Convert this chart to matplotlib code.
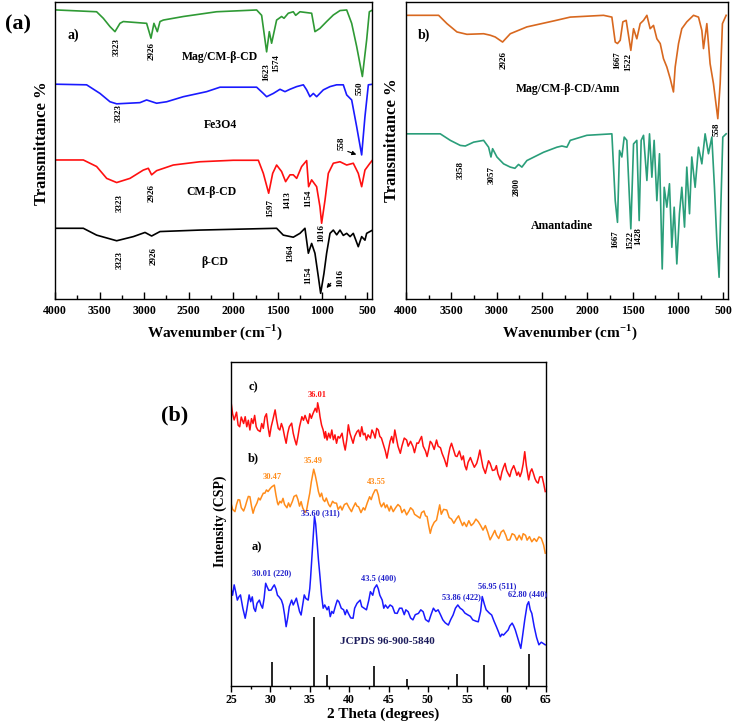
import matplotlib
matplotlib.use('Agg')
import matplotlib.pyplot as plt
from matplotlib.ticker import MultipleLocator

plt.rcParams['font.family'] = ['Liberation Serif', 'DejaVu Serif']
plt.rcParams['font.weight'] = 'bold'
plt.rcParams['mathtext.fontset'] = 'custom'
plt.rcParams['mathtext.rm'] = 'Liberation Serif:bold'
plt.rcParams['mathtext.bf'] = 'Liberation Serif:bold'

# ---- FTIR (a): wavenumber (cm-1) vs transmittance (offset, a.u.) ----
wn_mag = [3981, 3533, 3458, 3383, 3327, 3271, 3234, 2972, 2923, 2890, 2852, 2822, 2785, 2560,
          2187, 1738, 1682, 1626, 1596, 1570, 1514, 1458, 1431, 1383, 1327, 1300, 1252, 1121,
          1084, 1028, 953, 878, 803, 728, 672, 616, 552, 504, 474, 437]
t_mag = [97.3, 96.7, 94.5, 91.7, 90.0, 92.8, 93.4, 92.8, 87.8, 92.8, 90.0, 93.4, 93.9, 95.1,
         96.7, 97.3, 95.5, 83.2, 90.0, 86.1, 93.9, 95.1, 94.5, 96.2, 96.7, 95.5, 96.7, 96.2,
         90.0, 91.1, 93.4, 95.6, 97.1, 97.3, 92.8, 85.0, 74.9, 87.2, 96.7, 97.3]

wn_fe = [3981, 3645, 3495, 3383, 3308, 3047, 2972, 2860, 2747, 2560, 2299, 2149, 1738, 1663,
         1626, 1551, 1476, 1420, 1364, 1289, 1214, 1177, 1140, 1102, 1065, 990, 915, 841,
         766, 728, 672, 616, 560, 523, 485, 437]
t_fe = [72.3, 72.1, 69.2, 66.4, 65.7, 66.1, 67.0, 65.9, 66.4, 68.1, 69.8, 71.3, 71.3, 69.2,
        68.1, 69.2, 70.6, 69.8, 70.6, 71.5, 72.1, 70.4, 68.1, 69.2, 68.1, 70.4, 71.5, 72.1,
        72.1, 68.7, 67.0, 58.0, 48.5, 61.4, 72.1, 72.3]

wn_cmcd = [3981, 3682, 3533, 3420, 3308, 3159, 3009, 2953, 2916, 2860, 2673, 2374, 2000, 1719,
           1663, 1603, 1558, 1514, 1458, 1413, 1364, 1327, 1289, 1233, 1177, 1155, 1121, 1065,
           1028, 1009, 971, 934, 878, 803, 728, 654, 598, 560, 523, 467, 437]
t_cmcd = [46.8, 46.8, 44.6, 40.6, 39.2, 40.6, 43.4, 44.0, 41.8, 43.2, 45.1, 46.2, 46.7, 46.7,
          42.3, 35.6, 42.3, 45.1, 42.9, 39.5, 41.8, 41.8, 40.6, 44.6, 46.6, 37.8, 40.1, 37.8,
          31.1, 25.5, 33.3, 42.3, 45.7, 46.2, 45.1, 45.7, 42.3, 37.8, 43.4, 45.7, 46.8]

wn_bcd = [3981, 3682, 3533, 3308, 3121, 2990, 2916, 2822, 2374, 1514, 1439, 1327, 1252, 1196,
          1158, 1121, 1084, 1046, 1020, 983, 953, 915, 878, 840, 803, 766, 728, 690, 654,
          598, 560, 523, 504, 437]
t_bcd = [23.8, 23.8, 21.5, 19.6, 21.0, 22.4, 21.2, 22.7, 23.2, 23.8, 21.5, 20.8, 22.1, 23.8,
         15.4, 18.7, 15.4, 7.5, 1.9, 8.6, 15.4, 22.1, 23.2, 21.6, 23.2, 21.4, 22.1, 21.0, 22.1,
         17.6, 21.0, 19.8, 22.1, 23.2]

# ---- FTIR (b) ----
wn_amn_mag = [3989, 3640, 3548, 3438, 3328, 3144, 3071, 3016, 2935, 2850, 2667, 2373, 2189,
              1822, 1730, 1693, 1668, 1638, 1609, 1572, 1521, 1491, 1455, 1418, 1381, 1344,
              1308, 1271, 1234, 1197, 1161, 1124, 1087, 1051, 1032, 995, 959, 904, 830, 775,
              738, 720, 683, 647, 610, 562, 536, 511, 470]
t_amn_mag = [95.5, 95.5, 92.7, 89.9, 89.1, 89.3, 88.8, 88.2, 86.5, 89.3, 91.6, 93.6, 94.9,
             95.5, 94.9, 86.5, 86.0, 87.1, 93.3, 93.8, 83.7, 91.0, 87.6, 92.7, 93.8, 95.5,
             91.0, 92.1, 87.6, 86.0, 80.9, 78.1, 74.2, 69.7, 78.1, 86.0, 91.0, 93.3, 95.5,
             94.9, 90.4, 84.3, 92.7, 79.2, 72.5, 60.7, 72.5, 92.7, 95.5]

wn_amn = [3989, 3622, 3511, 3401, 3346, 3254, 3144, 3089, 3063, 3045, 2997, 2924, 2850, 2799,
          2759, 2722, 2667, 2483, 2336, 2281, 2226, 2189, 2006, 1730, 1693, 1668, 1646, 1620,
          1594, 1565, 1521, 1491, 1455, 1429, 1407, 1381, 1344, 1315, 1289, 1264, 1234, 1205,
          1175, 1153, 1124, 1095, 1069, 1043, 1014, 985, 959, 929, 904, 874, 849, 812, 775,
          738, 702, 665, 628, 599, 573, 548, 529, 507, 470]
t_amn = [55.6, 55.6, 53.4, 51.7, 51.5, 52.8, 53.4, 51.1, 47.8, 50.6, 47.8, 45.5, 44.4, 44.0,
         45.3, 44.4, 46.6, 49.4, 51.1, 51.5, 51.1, 53.4, 55.1, 55.6, 33.1, 25.8, 50.0, 47.8,
         54.5, 53.4, 23.6, 52.2, 53.4, 26.4, 53.4, 55.1, 39.9, 55.6, 41.0, 53.4, 33.1, 48.9,
         10.1, 37.6, 30.9, 38.8, 17.4, 30.9, 11.8, 28.7, 37.6, 24.2, 44.4, 28.7, 47.8, 37.6,
         51.1, 45.5, 55.6, 48.9, 54.5, 37.6, 19.7, 7.3, 30.9, 54.5, 55.6]

# ---- XRD: 2 theta (deg) vs intensity (offset, a.u.) ----
tt_c = [25.0, 25.2, 25.4, 25.7, 25.9, 26.1, 26.3, 26.6, 26.8, 27.0, 27.2, 27.4, 27.6, 27.8,
        28.0, 28.2, 28.4, 28.7, 28.9, 29.1, 29.3, 29.5, 29.7, 29.9, 30.1, 30.3, 30.6, 30.8,
        31.0, 31.2, 31.4, 31.6, 31.8, 32.0, 32.2, 32.4, 32.7, 32.9, 33.1, 33.3, 33.5, 33.7,
        34.0, 34.2, 34.4, 34.6, 34.8, 35.0, 35.2, 35.4, 35.7, 35.9, 36.0, 36.2, 36.3, 36.5,
        36.7, 36.9, 37.0, 37.2, 37.4, 37.6, 37.8, 38.0, 38.2, 38.4, 38.6, 38.8, 39.1, 39.3,
        39.5, 39.7, 39.9, 40.1, 40.3, 40.5, 40.7, 41.0, 41.2, 41.4, 41.6, 41.8, 42.0, 42.2,
        42.4, 42.7, 42.9, 43.1, 43.3, 43.5, 43.7, 43.9, 44.1, 44.3, 44.6, 44.8, 45.0, 45.2,
        45.4, 45.6, 45.8, 46.0, 46.2, 46.5, 46.7, 47.0, 47.3, 47.5, 47.8, 48.1, 48.3, 48.6,
        48.8, 49.0, 49.2, 49.4, 49.7, 49.9, 50.1, 50.3, 50.5, 50.8, 51.1, 51.3, 51.6, 51.8,
        52.1, 52.4, 52.6, 52.8, 53.0, 53.3, 53.5, 53.7, 54.0, 54.3, 54.5, 54.7, 54.9, 55.1,
        55.4, 55.6, 55.9, 56.2, 56.4, 56.6, 56.8, 57.0, 57.3, 57.5, 57.7, 57.9, 58.2, 58.5,
        58.7, 58.9, 59.2, 59.4, 59.6, 59.8, 60.0, 60.2, 60.4, 60.6, 60.9, 61.1, 61.3, 61.5,
        61.7, 61.9, 62.1, 62.3, 62.5, 62.8, 63.0, 63.2, 63.4, 63.6, 63.8, 64.0, 64.2, 64.5,
        64.7, 64.9]
int_c = [87.7, 84.0, 82.1, 84.5, 80.5, 80.0, 83.0, 81.0, 83.1, 80.0, 82.0, 79.0, 82.5, 81.0,
         83.5, 80.0, 79.0, 78.5, 81.0, 79.5, 83.0, 84.0, 80.0, 77.0, 80.0, 82.0, 85.2, 82.0,
         79.5, 79.0, 81.0, 79.5, 77.0, 74.9, 78.0, 80.0, 81.1, 78.0, 76.0, 74.4, 77.0, 80.0,
         83.1, 82.0, 83.5, 82.1, 81.0, 84.0, 82.6, 84.0, 85.7, 84.5, 87.4, 85.0, 83.1, 80.5,
         79.0, 76.5, 78.5, 75.9, 78.0, 76.5, 79.0, 76.0, 77.5, 74.9, 77.0, 76.5, 78.0, 75.0,
         72.8, 76.0, 80.6, 78.0, 76.5, 74.9, 77.0, 78.5, 79.0, 77.0, 80.0, 77.5, 78.0, 75.9,
         77.5, 76.5, 79.0, 78.0, 76.5, 79.5, 79.0, 77.0, 76.5, 74.9, 72.5, 70.3, 73.0, 75.5,
         77.0, 75.0, 79.0, 76.5, 74.0, 71.8, 74.0, 76.5, 75.9, 74.0, 75.5, 73.9, 72.0, 75.0,
         74.9, 76.0, 77.0, 74.0, 72.5, 70.8, 73.0, 75.5, 74.9, 73.0, 75.9, 74.0, 73.5, 71.8,
         70.0, 67.7, 71.0, 73.5, 74.9, 72.5, 71.0, 70.8, 72.5, 69.8, 71.0, 68.0, 66.7, 69.0,
         70.5, 69.2, 67.5, 68.7, 70.5, 72.8, 70.0, 67.5, 65.6, 67.5, 69.5, 68.7, 66.5, 66.7,
         68.0, 65.5, 63.6, 66.0, 67.5, 68.7, 66.5, 65.5, 64.6, 66.5, 68.0, 66.7, 65.0, 66.0,
         64.6, 66.0, 68.5, 72.3, 68.0, 63.6, 66.0, 67.0, 65.6, 64.0, 63.0, 62.6, 64.5, 64.6,
         62.5, 60.0]

tt_b = [25.0, 25.2, 25.5, 25.7, 25.9, 26.1, 26.3, 26.6, 26.8, 27.0, 27.2, 27.4, 27.6, 27.8,
        28.0, 28.3, 28.5, 28.7, 28.9, 29.1, 29.3, 29.5, 29.7, 30.0, 30.2, 30.5, 30.7, 30.9,
        31.0, 31.2, 31.4, 31.6, 31.8, 32.1, 32.3, 32.5, 32.8, 33.0, 33.3, 33.5, 33.7, 33.9,
        34.1, 34.4, 34.6, 34.8, 35.0, 35.2, 35.5, 35.7, 35.9, 36.1, 36.3, 36.5, 36.7, 36.9,
        37.1, 37.4, 37.6, 37.9, 38.1, 38.4, 38.6, 38.9, 39.1, 39.4, 39.7, 40.0, 40.3, 40.5,
        40.8, 41.0, 41.2, 41.5, 41.8, 42.0, 42.3, 42.6, 42.8, 43.0, 43.3, 43.5, 43.7, 43.9,
        44.1, 44.4, 44.6, 44.8, 45.1, 45.3, 45.6, 45.9, 46.2, 46.5, 46.7, 47.0, 47.3, 47.6,
        47.8, 48.1, 48.3, 48.6, 49.0, 49.2, 49.5, 49.7, 49.9, 50.1, 50.3, 50.5, 50.8, 51.1,
        51.3, 51.5, 51.7, 52.0, 52.4, 52.7, 53.0, 53.3, 53.6, 53.9, 54.1, 54.4, 54.6, 54.9,
        55.2, 55.5, 55.8, 56.1, 56.4, 56.7, 57.0, 57.3, 57.6, 57.9, 58.2, 58.5, 58.7, 59.0,
        59.3, 59.6, 59.9, 60.1, 60.4, 60.7, 61.0, 61.3, 61.6, 61.9, 62.1, 62.4, 62.6, 62.9,
        63.2, 63.5, 63.8, 64.1, 64.4, 64.7, 64.9]
int_b = [56.4, 54.5, 53.8, 56.0, 57.5, 57.4, 55.0, 54.0, 55.3, 57.0, 58.5, 58.4, 55.5, 53.3,
         55.0, 56.5, 58.0, 57.4, 58.5, 59.5, 59.5, 60.5, 60.0, 61.0, 61.5, 62.0, 59.0, 56.5,
         55.9, 57.0, 56.5, 57.9, 56.0, 55.0, 56.5, 55.3, 57.0, 58.5, 58.9, 57.5, 55.5, 56.9,
         55.0, 53.5, 54.3, 57.0, 59.5, 63.0, 66.9, 65.0, 62.6, 60.0, 58.4, 59.5, 57.5, 56.9,
         58.0, 56.0, 55.3, 57.0, 56.5, 56.4, 54.5, 55.5, 54.3, 56.0, 56.4, 55.0, 53.8, 55.0,
         56.5, 55.5, 55.3, 53.5, 55.0, 54.3, 56.5, 58.4, 57.5, 59.0, 60.5, 60.5, 59.0, 56.5,
         55.3, 56.5, 55.0, 55.9, 54.0, 55.5, 53.8, 55.0, 56.0, 55.3, 53.5, 54.5, 52.8, 54.0,
         55.0, 54.3, 53.0, 52.5, 51.8, 53.5, 54.0, 52.5, 52.3, 49.5, 47.1, 49.0, 50.5, 51.2,
         53.5, 55.9, 53.0, 54.5, 54.3, 52.0, 51.5, 50.2, 51.5, 52.5, 51.2, 49.5, 50.5, 49.2,
         51.0, 49.5, 50.2, 51.5, 50.7, 49.5, 48.1, 49.5, 47.5, 45.1, 46.5, 48.0, 46.6, 45.5,
         47.5, 48.1, 46.5, 45.0, 45.1, 47.0, 46.6, 45.0, 46.5, 45.1, 47.0, 46.5, 45.0, 46.1,
         44.5, 45.5, 44.6, 46.0, 45.6, 43.5, 41.0]

tt_a = [25.0, 25.2, 25.4, 25.6, 25.8, 26.0, 26.2, 26.5, 26.8, 27.0, 27.3, 27.5, 27.7, 27.9,
        28.1, 28.3, 28.6, 28.8, 29.0, 29.2, 29.4, 29.6, 29.8, 30.1, 30.3, 30.5, 30.7, 30.9,
        31.1, 31.4, 31.6, 31.8, 32.0, 32.2, 32.4, 32.7, 32.9, 33.1, 33.3, 33.5, 33.7, 33.9,
        34.1, 34.3, 34.5, 34.8, 35.0, 35.1, 35.3, 35.5, 35.6, 35.75, 35.9, 36.1, 36.3, 36.5,
        36.7, 36.9, 37.2, 37.4, 37.6, 37.8, 38.0, 38.3, 38.5, 38.7, 39.0, 39.3, 39.5, 39.7,
        39.9, 40.2, 40.5, 40.7, 41.0, 41.2, 41.4, 41.6, 41.9, 42.2, 42.5, 42.7, 43.0, 43.2,
        43.5, 43.7, 43.9, 44.2, 44.4, 44.6, 44.9, 45.2, 45.5, 45.8, 46.1, 46.4, 46.7, 47.0,
        47.2, 47.5, 47.8, 48.1, 48.4, 48.8, 49.1, 49.4, 49.7, 50.1, 50.4, 50.7, 51.0, 51.3,
        51.6, 51.9, 52.2, 52.6, 52.9, 53.2, 53.5, 53.8, 54.1, 54.4, 54.7, 55.1, 55.4, 55.7,
        56.1, 56.4, 56.7, 56.9, 57.2, 57.4, 57.8, 58.1, 58.4, 58.7, 59.0, 59.2, 59.4, 59.6,
        59.9, 60.2, 60.4, 60.7, 60.9, 61.1, 61.5, 61.8, 62.0, 62.3, 62.6, 62.8, 63.0, 63.2,
        63.5, 63.8, 64.1, 64.4, 64.6, 64.9]
int_a = [30.1, 28.0, 31.2, 29.0, 26.5, 27.5, 28.1, 24.0, 20.9, 23.5, 28.1, 26.0, 27.5, 24.0,
         23.0, 25.5, 26.5, 25.0, 24.0, 27.0, 31.7, 30.5, 29.5, 29.6, 30.5, 31.2, 30.0, 28.0,
         27.5, 26.5, 25.0, 22.0, 18.3, 21.0, 24.5, 26.5, 25.0, 26.0, 27.1, 25.0, 23.0, 21.9,
         25.0, 28.1, 27.0, 26.5, 30.0, 33.2, 41.0, 49.0, 52.3, 50.0, 45.1, 39.0, 33.7, 28.0,
         24.0, 25.0, 23.5, 24.5, 21.4, 23.0, 22.4, 25.0, 26.5, 26.0, 24.0, 23.5, 22.0, 23.5,
         22.4, 21.0, 20.9, 24.0, 25.5, 26.0, 26.5, 24.5, 24.0, 23.5, 26.5, 29.1, 28.0, 30.1,
         31.2, 30.0, 28.0, 26.5, 24.0, 25.0, 24.0, 25.0, 24.5, 22.5, 22.4, 24.0, 24.0, 22.0,
         23.5, 22.9, 21.0, 20.4, 22.0, 22.4, 23.5, 22.9, 20.5, 19.8, 22.0, 24.0, 23.0, 23.5,
         22.0, 20.4, 19.5, 18.8, 20.5, 21.9, 24.0, 25.0, 24.0, 23.5, 22.5, 21.9, 21.5, 20.4,
         20.0, 19.8, 23.0, 27.6, 25.0, 23.5, 22.5, 21.9, 20.0, 18.3, 16.5, 15.2, 16.0, 15.7,
         16.5, 17.3, 18.5, 19.4, 18.5, 17.3, 14.0, 11.6, 15.0, 20.4, 25.0, 26.0, 23.5, 22.4,
         18.3, 15.0, 12.7, 13.5, 13.2, 12.7]

ref_tt = [30.25, 35.58, 37.19, 43.2, 47.3, 53.65, 57.15, 62.8]
ref_int = [7.4, 21.3, 3.3, 6.1, 2.1, 3.8, 6.4, 9.8]

green = '#2f9a35'
blue = '#1a1aff'
red = '#ff1010'
orange_b = '#d8681f'
teal = '#2a9e7a'
xrd_orange = '#ff8c1a'

fig = plt.figure(figsize=(7.32, 7.22), dpi=100)
ax1 = fig.add_axes([0.0751, 0.5859, 0.4331, 0.4114])
ax2 = fig.add_axes([0.5546, 0.5859, 0.4399, 0.4114])
ax3 = fig.add_axes([0.3156, 0.0499, 0.4303, 0.4488])


def ftir_axes(ax, right):
    ax.set_xlim(4000, right)
    ax.set_ylim(0, 100)
    ax.set_yticks([])
    ax.xaxis.set_major_locator(MultipleLocator(500))
    ax.xaxis.set_minor_locator(MultipleLocator(250))
    ax.tick_params(axis='x', which='major', direction='in', length=5, width=1, labelsize=8.5, pad=4)
    ax.tick_params(axis='x', which='minor', direction='in', length=3, width=1)
    for s in ax.spines.values():
        s.set_linewidth(1.0)


def vlabel(ax, txt, x, y, size=6.5):
    ax.text(x, y, txt, rotation=90, ha='center', va='center', fontsize=size)


# panel a
ax1.plot(wn_mag, t_mag, color=green, lw=1.2)
ax1.plot(wn_fe, t_fe, color=blue, lw=1.2)
ax1.plot(wn_cmcd, t_cmcd, color=red, lw=1.2)
ax1.plot(wn_bcd, t_bcd, color='black', lw=1.2)
ftir_axes(ax1, 444)

ax1.text(3794, 88.9, 'a)', fontsize=10, ha='center', va='center')
for txt, x, y in [('3323', 3308, 85.0), ('2926', 2916, 83.3), ('1623', 1626, 76.5),
                  ('1574', 1514, 79.3), ('550', 579, 70.9),
                  ('3323', 3290, 62.5), ('558', 784, 52.4),
                  ('3323', 3271, 32.2), ('2926', 2916, 35.6), ('1597', 1588, 30.5),
                  ('1413', 1394, 33.3), ('1154', 1158, 33.9), ('1016', 1009, 22.1),
                  ('3323', 3271, 13.1), ('2926', 2897, 14.3), ('1364', 1364, 15.4),
                  ('1154', 1158, 8.1), ('1016', 796, 7.0)]:
    vlabel(ax1, txt, x, y)
for txt, x, y in [('Mag/CM-β-CD', 2149, 81.6), ('Fe3O4', 2149, 58.6),
                  ('CM-β-CD', 2243, 36.1), ('β-CD', 2205, 12.6)]:
    ax1.text(x, y, txt, fontsize=8.5, ha='center', va='center')
ax1.annotate('', xy=(590, 48.3), xytext=(745, 50.0),
             arrowprops=dict(arrowstyle='-|>', color='black', lw=0.8, mutation_scale=6))
ax1.annotate('', xy=(975, 3.0), xytext=(885, 6.0),
             arrowprops=dict(arrowstyle='-|>', color='black', lw=0.8, mutation_scale=6))

# panel b
ax2.plot(wn_amn_mag, t_amn_mag, color=orange_b, lw=1.2)
ax2.plot(wn_amn, t_amn, color=teal, lw=1.2)
ftir_axes(ax2, 450)
ax2.text(3805, 88.8, 'b)', fontsize=10, ha='center', va='center')
for txt, x, y in [('2926', 2924, 80.3), ('1667', 1675, 80.3), ('1522', 1546, 79.8),
                  ('558', 580, 57.3), ('3358', 3401, 43.3), ('3057', 3060, 41.6),
                  ('2800', 2784, 37.6), ('1667', 1693, 20.2), ('1522', 1528, 19.7),
                  ('1428', 1436, 21.3)]:
    vlabel(ax2, txt, x, y)
ax2.text(2208, 70.8, 'Mag/CM-β-CD/Amn', fontsize=8.5, ha='center', va='center')
ax2.text(2281, 24.7, 'Amantadine', fontsize=8.5, ha='center', va='center')

# XRD panel
ax3.plot(tt_c, int_c, color=red, lw=1.1)
ax3.plot(tt_b, int_b, color=xrd_orange, lw=1.1)
ax3.plot(tt_a, int_a, color=blue, lw=1.1)
ax3.vlines(ref_tt, 0, ref_int, color='black', lw=1.2)
ax3.set_xlim(25, 65)
ax3.set_ylim(0, 100)
ax3.set_yticks([])
ax3.xaxis.set_major_locator(MultipleLocator(5))
ax3.xaxis.set_minor_locator(MultipleLocator(2.5))
ax3.tick_params(axis='x', which='major', direction='out', length=4, width=1, labelsize=8.5, pad=2)
ax3.tick_params(axis='x', which='minor', direction='out', length=2.5, width=1)
for s in ax3.spines.values():
    s.set_linewidth(1.0)

ax3.text(27.8, 92.3, 'c)', fontsize=9, ha='center', va='center')
ax3.text(27.8, 70.4, 'b)', fontsize=9, ha='center', va='center')
ax3.text(28.3, 42.9, 'a)', fontsize=9, ha='center', va='center')
ax3.text(35.9, 89.8, '36.01', fontsize=6, color=red, ha='center', va='center')
for txt, x, y in [('30.47', 30.2, 64.5), ('35.49', 35.4, 69.4), ('43.55', 43.5, 63.0)]:
    ax3.text(x, y, txt, fontsize=6, color=xrd_orange, ha='center', va='center')
for txt, x, y in [('35.60 (311)', 36.3, 53.4), ('30.01 (220)', 30.2, 34.9),
                  ('43.5 (400)', 43.7, 33.3), ('53.86 (422)', 54.2, 27.5),
                  ('56.95 (511)', 58.8, 30.9), ('62.80 (440)', 62.6, 28.4)]:
    ax3.text(x, y, txt, fontsize=6, color='#2222cc', ha='center', va='center')
ax3.text(44.8, 13.6, 'JCPDS 96-900-5840', fontsize=8, color='#1c1c5c', ha='center', va='center')

# figure-level labels
fig.text(0.0246, 0.9654, '(a)', fontsize=16, ha='center', va='center')
fig.text(0.239, 0.4252, '(b)', fontsize=16, ha='center', va='center')
fig.text(0.0574, 0.802, 'Transmittance %', fontsize=12, rotation=90, ha='center', va='center')
fig.text(0.5355, 0.806, 'Transmittance %', fontsize=12, rotation=90, ha='center', va='center')
fig.text(0.2937, 0.540, 'Wavenumber (cm$^{-1}$)', fontsize=11, ha='center', va='center')
fig.text(0.7787, 0.540, 'Wavenumber (cm$^{-1}$)', fontsize=11, ha='center', va='center')
fig.text(0.3005, 0.2784, 'Intensity (CSP)', fontsize=10, rotation=90, ha='center', va='center')
fig.text(0.523, 0.011, '2 Theta (degrees)', fontsize=11, ha='center', va='center')

fig.savefig('out.png', dpi=100)
